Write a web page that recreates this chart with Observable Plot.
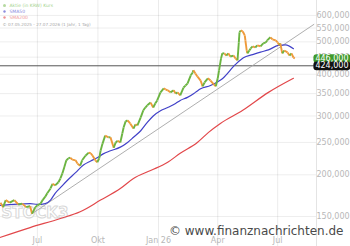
<!DOCTYPE html>
<html><head><meta charset="utf-8">
<script src="https://cdn.jsdelivr.net/npm/d3@7"></script>
<script src="https://cdn.jsdelivr.net/npm/@observablehq/plot@0.6"></script>
<style>
html,body{margin:0;padding:0;background:#fff;}
#chart{width:350px;height:246px;overflow:hidden;}
svg{display:block;}
</style></head><body><div id="chart"></div>
<script>
// ---- data ----
const priceDates = ["2025-05-06","2025-05-10","2025-05-14","2025-05-20","2025-05-27","2025-06-02","2025-06-08","2025-06-14","2025-06-20","2025-06-23","2025-06-28","2025-07-01","2025-07-06","2025-07-09","2025-07-13","2025-07-16","2025-07-21","2025-07-24","2025-07-28","2025-08-02","2025-08-05","2025-08-08","2025-08-11","2025-08-14","2025-08-17","2025-08-20","2025-08-23","2025-08-28","2025-08-31","2025-09-04","2025-09-07","2025-09-12","2025-09-17","2025-09-20","2025-09-23","2025-09-27","2025-09-30","2025-10-03","2025-10-05","2025-10-08","2025-10-12","2025-10-17","2025-10-20","2025-10-25","2025-10-28","2025-10-31","2025-11-04","2025-11-07","2025-11-09","2025-11-12","2025-11-15","2025-11-19","2025-11-24","2025-11-27","2025-11-30","2025-12-05","2025-12-09","2025-12-12","2025-12-15","2025-12-20","2025-12-24","2025-12-27","2025-12-30","2026-01-04","2026-01-09","2026-01-12","2026-01-15","2026-01-19","2026-01-24","2026-01-27","2026-01-30","2026-02-03","2026-02-08","2026-02-11","2026-02-14","2026-02-19","2026-02-22","2026-02-23","2026-02-26","2026-03-01","2026-03-06","2026-03-09","2026-03-12","2026-03-17","2026-03-21","2026-03-26","2026-03-29","2026-04-01","2026-04-03","2026-04-06","2026-04-08","2026-04-11","2026-04-14","2026-04-17","2026-04-20","2026-04-25","2026-04-28","2026-05-01","2026-05-03","2026-05-04","2026-05-06","2026-05-09","2026-05-12","2026-05-13","2026-05-15","2026-05-16","2026-05-19","2026-05-21","2026-05-24","2026-05-28","2026-05-31","2026-06-05","2026-06-09","2026-06-13","2026-06-15","2026-06-20","2026-06-23","2026-06-28","2026-07-01","2026-07-04","2026-07-05","2026-07-08","2026-07-11","2026-07-16","2026-07-19","2026-07-22","2026-07-25","2026-07-27"];
const priceValues = [165000,160000,168000,165000,168000,163000,164000,160000,161000,153000,160000,162000,164000,168000,172000,176000,182000,188000,186000,190000,195000,202000,211000,221000,224000,225000,222000,221000,216000,213000,221000,228000,233000,232000,228000,221000,218000,224000,236000,248000,262000,259000,259000,241000,250000,253000,250000,266000,277000,289000,291000,285000,275000,283000,281000,297000,312000,318000,323000,329000,318000,327000,334000,353000,363000,360000,358000,353000,358000,350000,353000,346000,365000,370000,375000,397000,405000,411000,402000,394000,383000,368000,378000,389000,383000,373000,368000,389000,411000,446000,462000,462000,455000,462000,452000,455000,446000,440000,498000,534000,541000,537000,523000,505000,471000,462000,471000,478000,485000,481000,488000,485000,495000,498000,505000,516000,509000,505000,498000,488000,495000,462000,471000,465000,455000,462000,449000,446000];

const sma50Dates = ["2025-05-06","2025-06-20","2025-07-01","2025-07-13","2025-07-21","2025-07-28","2025-08-05","2025-08-15","2025-08-28","2025-09-09","2025-09-20","2025-09-30","2025-10-09","2025-10-20","2025-11-04","2025-11-15","2025-11-24","2025-12-05","2025-12-15","2025-12-24","2026-01-04","2026-01-15","2026-01-27","2026-02-03","2026-02-14","2026-02-26","2026-03-06","2026-03-21","2026-04-01","2026-04-08","2026-04-28","2026-05-10","2026-05-24","2026-06-05","2026-06-17","2026-07-02","2026-07-13","2026-07-25"];
const sma50Values = [162000,164000,163000,164000,168000,176000,183000,192000,203000,214000,220000,225000,231000,236000,242000,250000,259000,271000,287000,300000,311000,318000,327000,334000,341000,353000,362000,370000,380000,388000,428000,448000,458000,466000,473000,488000,490000,477000];

const sma200Dates = ["2025-05-06","2025-06-20","2025-08-05","2025-09-04","2025-10-05","2025-11-04","2025-11-24","2025-12-20","2026-01-15","2026-02-03","2026-03-01","2026-03-18","2026-04-05","2026-05-09","2026-06-17","2026-07-25"];
const sma200Values = [130000,139000,148000,155000,168000,182000,195000,206000,218000,232000,250000,268000,285000,312000,353000,389000];

const trendDates = ["2025-06-23","2026-08-25"];
const trendValues = [153000,564000];

const supportLevel = 424000;
const lastPrice = 446000;

const xDomain = ["2025-05-06","2026-08-29"];
const yDomain = [122000,665000];
const xTickDates = ["2025-07-01","2025-10-01","2026-01-01","2026-04-01","2026-07-01"];
const xTickLabels = ["Jul","Okt","Jan 26","Apr","Jul"];
const yTicks = [150000,200000,250000,300000,350000,400000,450000,500000,550000,600000];

const legendLabels = ["Aktie (in KRW) Kurs","SMA50","SMA200","© 07.05.2025 - 27.07.2026 (1 Jahr, 1 Tag)"];
const copyrightText = "© www.finanznachrichten.de";
const watermarkText = "STOCK3";

// ---- build ----
const parse = d3.utcParse("%Y-%m-%d");
const fmt = d3.format(",");
const price = priceDates.map((d,i)=>({date:parse(d), value:priceValues[i]}));
const segs = price.slice(1).map((d,i)=>({x1:price[i].date,y1:price[i].value,x2:d.date,y2:d.value,up:d.value>=price[i].value}));
const sma50 = sma50Dates.map((d,i)=>({date:parse(d), value:sma50Values[i]}));
const sma200 = sma200Dates.map((d,i)=>({date:parse(d), value:sma200Values[i]}));
const trend = trendDates.map((d,i)=>({date:parse(d), value:trendValues[i]}));
const ticksX = xTickDates.map(parse);
const tags = [{value:lastPrice, color:"#3f9a2c"},{value:supportLevel, color:"#111111"}];

const GREEN="#6bb441", ORANGE="#ee9a3a", BLUE="#4141c8", RED="#e2474a";
const FONT = "DejaVu Sans, sans-serif";

const chart = Plot.plot({
  width:350, height:246,
  marginLeft:0, marginRight:34, marginTop:0, marginBottom:0,
  style:{background:"#fff", fontFamily:FONT, fontSize:"8px", overflow:"visible"},
  x:{type:"utc", domain:xDomain.map(parse), axis:null},
  y:{type:"log", domain:yDomain, axis:null},
  marks:[
    Plot.gridY(yTicks,{stroke:"#000", strokeOpacity:0.07}),
    Plot.gridX(ticksX,{stroke:"#000", strokeOpacity:0.08}),
    Plot.ruleX([parse(xDomain[1])],{stroke:"#e4e4e4"}),
    Plot.text([watermarkText],{frameAnchor:"bottom-left", dx:1, dy:-33, lineAnchor:"middle", textAnchor:"start", fontSize:15, fontWeight:"bold", fill:"#fff", stroke:"#d8d8d8", strokeWidth:1, paintOrder:"fill", fontFamily:FONT}),
    Plot.text(ticksX,{x:d=>d, text:(d,i)=>xTickLabels[i], frameAnchor:"bottom", dy:-6, lineAnchor:"middle", fill:"#b8b8b8", fontSize:8}),
    Plot.axisY({anchor:"right", ticks:yTicks, tickSize:0, tickPadding:0, tickFormat:fmt, color:"#b8b8b8", fontSize:8, label:null}),
    Plot.ruleY([supportLevel],{stroke:"#555", strokeWidth:1}),
    Plot.line(trend,{x:"date", y:"value", stroke:"#a5a5a5", strokeWidth:0.9}),
    Plot.line(sma200,{x:"date", y:"value", stroke:RED, strokeWidth:1.2, curve:"monotone-x"}),
    Plot.line(sma50,{x:"date", y:"value", stroke:BLUE, strokeWidth:1.2, curve:"monotone-x"}),
    Plot.link(segs,{x1:"x1", y1:"y1", x2:"x2", y2:"y2", stroke:d=>d.up?GREEN:ORANGE, strokeWidth:1.9, curve:"linear"}),
    Plot.text([copyrightText],{frameAnchor:"bottom-right", dx:27, dy:-15, lineAnchor:"middle", textAnchor:"end", fontSize:12, fill:"#4a4a4a", fontFamily:FONT}),
    // legend
    Plot.dot([0],{frameAnchor:"top-left", dx:4, dy:5, r:1.5, fill:GREEN, fillOpacity:0.5}),
    Plot.text([legendLabels[0]],{frameAnchor:"top-left", dx:9, dy:5, lineAnchor:"middle", textAnchor:"start", fontSize:4.5, fill:"#a6d38f"}),
    Plot.dot([0],{frameAnchor:"top-left", dx:4, dy:11, r:1.2, fill:BLUE, fillOpacity:0.6}),
    Plot.text([legendLabels[1]],{frameAnchor:"top-left", dx:9, dy:11, lineAnchor:"middle", textAnchor:"start", fontSize:4.5, fill:"#8a8ae0"}),
    Plot.dot([0],{frameAnchor:"top-left", dx:4, dy:17, r:1.2, fill:RED, fillOpacity:0.6}),
    Plot.text([legendLabels[2]],{frameAnchor:"top-left", dx:9, dy:17, lineAnchor:"middle", textAnchor:"start", fontSize:4.5, fill:"#f09a9a"}),
    Plot.text([legendLabels[3]],{frameAnchor:"top-left", dx:2, dy:24, lineAnchor:"middle", textAnchor:"start", fontSize:4.2, fill:"#a8a8a8"}),
    // price tags
    Plot.text(tags,{y:"value", text:d=>fmt(d.value), frameAnchor:"right", dx:32, textAnchor:"end", lineAnchor:"middle", fill:"#ffffff", fontSize:8, ariaDescription:"price-tags"})
  ]
});
document.getElementById("chart").appendChild(chart);

// backgrounds for price tags, inserted behind both tag texts
const tagGroup = chart.querySelector('g[aria-description="price-tags"]');
if (tagGroup) {
  const texts = Array.from(tagGroup.querySelectorAll("text"));
  const first = tagGroup.firstChild;
  texts.forEach((el, i) => {
    const b = el.getBBox();
    const cy = b.y + b.height / 2;
    const r = document.createElementNS("http://www.w3.org/2000/svg", "rect");
    const t = el.getAttribute("transform");
    if (t) r.setAttribute("transform", t);
    r.setAttribute("x", b.x - 2);
    r.setAttribute("y", cy - 4.3);
    r.setAttribute("width", b.width + 4);
    r.setAttribute("height", 8.6);
    r.setAttribute("rx", 3);
    r.setAttribute("fill", tags[i].color);
    r.setAttribute("stroke", "none");
    tagGroup.insertBefore(r, first);
  });
}
</script></body></html>
